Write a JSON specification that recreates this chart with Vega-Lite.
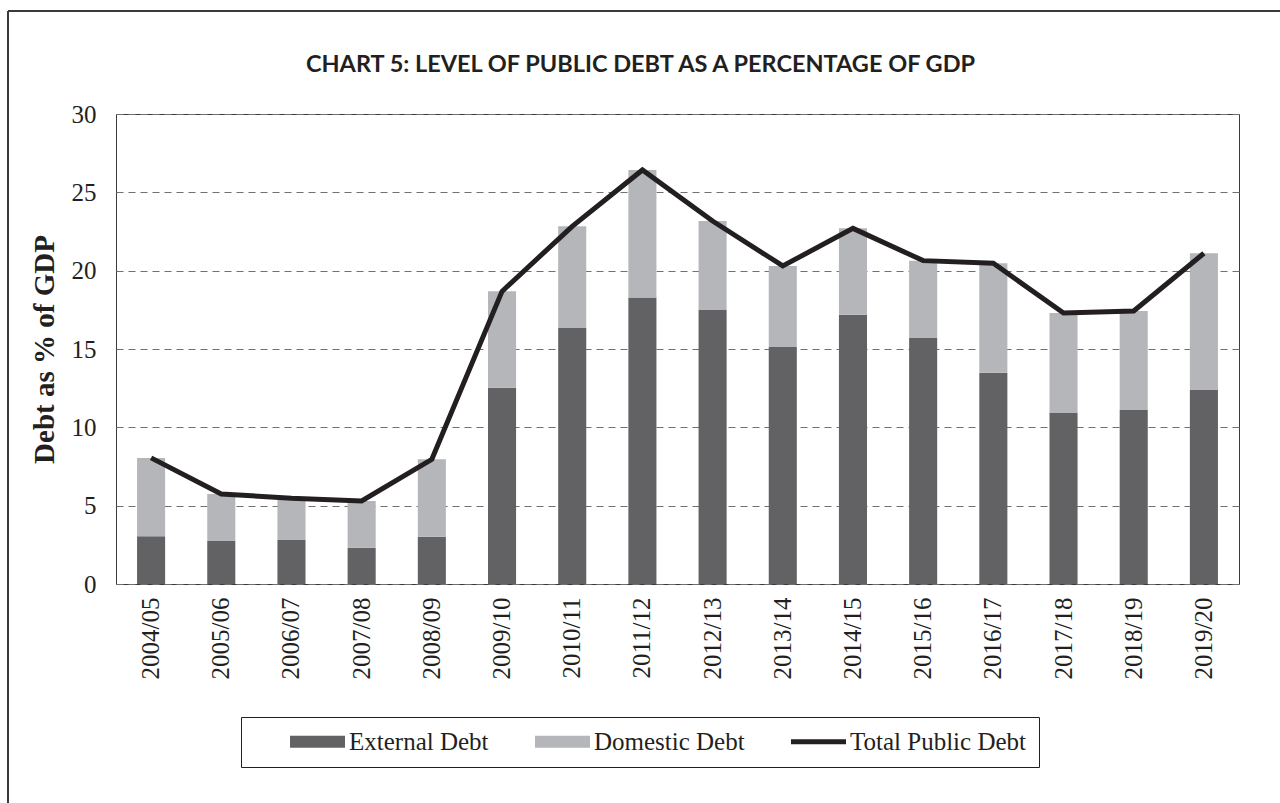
{
  "$schema": "https://vega.github.io/schema/vega-lite/v6.json",
  "width": 1123,
  "height": 470,
  "autosize": {"type": "none"},
  "padding": {"left": 116, "top": 114, "right": 41, "bottom": 219},
  "background": "white",
  "title": {
    "text": "CHART 5: LEVEL OF PUBLIC DEBT AS A PERCENTAGE OF GDP",
    "font": "Lato",
    "fontSize": 23.5,
    "fontWeight": "bold",
    "color": "#231f20",
    "anchor": "middle",
    "baseline": "alphabetic",
    "dx": -37,
    "offset": -85
  },
  "datasets": {
    "parts": [
      {"year": "2004/05", "series": "External Debt", "value": 3.05},
      {"year": "2004/05", "series": "Domestic Debt", "value": 5.00},
      {"year": "2005/06", "series": "External Debt", "value": 2.75},
      {"year": "2005/06", "series": "Domestic Debt", "value": 3.00},
      {"year": "2006/07", "series": "External Debt", "value": 2.81},
      {"year": "2006/07", "series": "Domestic Debt", "value": 2.66},
      {"year": "2007/08", "series": "External Debt", "value": 2.32},
      {"year": "2007/08", "series": "Domestic Debt", "value": 2.98},
      {"year": "2008/09", "series": "External Debt", "value": 3.02},
      {"year": "2008/09", "series": "Domestic Debt", "value": 4.94},
      {"year": "2009/10", "series": "External Debt", "value": 12.53},
      {"year": "2009/10", "series": "Domestic Debt", "value": 6.15},
      {"year": "2010/11", "series": "External Debt", "value": 16.34},
      {"year": "2010/11", "series": "Domestic Debt", "value": 6.49},
      {"year": "2011/12", "series": "External Debt", "value": 18.28},
      {"year": "2011/12", "series": "Domestic Debt", "value": 8.15},
      {"year": "2012/13", "series": "External Debt", "value": 17.49},
      {"year": "2012/13", "series": "Domestic Debt", "value": 5.68},
      {"year": "2013/14", "series": "External Debt", "value": 15.13},
      {"year": "2013/14", "series": "Domestic Debt", "value": 5.17},
      {"year": "2014/15", "series": "External Debt", "value": 17.19},
      {"year": "2014/15", "series": "Domestic Debt", "value": 5.51},
      {"year": "2015/16", "series": "External Debt", "value": 15.70},
      {"year": "2015/16", "series": "Domestic Debt", "value": 4.94},
      {"year": "2016/17", "series": "External Debt", "value": 13.49},
      {"year": "2016/17", "series": "Domestic Debt", "value": 6.98},
      {"year": "2017/18", "series": "External Debt", "value": 10.91},
      {"year": "2017/18", "series": "Domestic Debt", "value": 6.39},
      {"year": "2018/19", "series": "External Debt", "value": 11.11},
      {"year": "2018/19", "series": "Domestic Debt", "value": 6.32},
      {"year": "2019/20", "series": "External Debt", "value": 12.38},
      {"year": "2019/20", "series": "Domestic Debt", "value": 8.73}
    ],
    "totals": [
      {"year": "2004/05", "total": 8.05},
      {"year": "2005/06", "total": 5.75},
      {"year": "2006/07", "total": 5.47},
      {"year": "2007/08", "total": 5.30},
      {"year": "2008/09", "total": 7.96},
      {"year": "2009/10", "total": 18.68},
      {"year": "2010/11", "total": 22.83},
      {"year": "2011/12", "total": 26.43},
      {"year": "2012/13", "total": 23.17},
      {"year": "2013/14", "total": 20.30},
      {"year": "2014/15", "total": 22.70},
      {"year": "2015/16", "total": 20.64},
      {"year": "2016/17", "total": 20.47},
      {"year": "2017/18", "total": 17.30},
      {"year": "2018/19", "total": 17.43},
      {"year": "2019/20", "total": 21.11}
    ]
  },
  "config": {
    "view": {"stroke": "#3c3c3c", "strokeWidth": 1},
    "axisY": {
      "labelFont": "Liberation Serif",
      "labelFontSize": 25,
      "labelColor": "#231f20",
      "labelPadding": 20,
      "grid": true,
      "gridDash": [7, 5],
      "gridColor": "#707070",
      "gridWidth": 1,
      "domain": false,
      "ticks": false,
      "titleFont": "Liberation Serif",
      "titleFontSize": 29,
      "titleFontWeight": "bold",
      "titleColor": "#231f20",
      "titlePadding": 12
    },
    "axisX": {
      "labelFont": "Liberation Serif",
      "labelFontSize": 25,
      "labelColor": "#231f20",
      "labelAngle": -90,
      "labelPadding": 13,
      "domain": false,
      "ticks": false,
      "grid": false
    }
  },
  "layer": [
    {
      "description": "outer frame, left edge",
      "data": {"values": [{}]},
      "mark": {"type": "rule", "stroke": "#3a3a3a", "strokeWidth": 2, "clip": false},
      "encoding": {"x": {"value": -108}, "y": {"value": -103}, "y2": {"value": 700}}
    },
    {
      "description": "outer frame, top edge",
      "data": {"values": [{}]},
      "mark": {"type": "rule", "stroke": "#3a3a3a", "strokeWidth": 2, "clip": false},
      "encoding": {"x": {"value": -108}, "x2": {"value": 1200}, "y": {"value": -103}}
    },
    {
      "data": {"name": "parts"},
      "mark": {"type": "bar"},
      "encoding": {
        "x": {
          "field": "year",
          "type": "nominal",
          "sort": null,
          "scale": {"paddingInner": 0.6, "paddingOuter": 0.3},
          "axis": {"title": null}
        },
        "y": {
          "field": "value",
          "type": "quantitative",
          "stack": "zero",
          "scale": {"domain": [0, 30], "nice": false},
          "axis": {"title": "Debt as % of GDP", "values": [0, 5, 10, 15, 20, 25, 30]}
        },
        "color": {
          "field": "series",
          "type": "nominal",
          "scale": {
            "domain": ["External Debt", "Domestic Debt", "Total Public Debt"],
            "range": ["#626264", "#b5b6b9", "#231f20"]
          },
          "legend": {
            "title": null,
            "orient": "none",
            "legendX": 125,
            "legendY": 603,
            "direction": "horizontal",
            "columns": 3,
            "padding": 12,
            "strokeColor": "#231f20",
            "symbolSize": 3025,
            "symbolOffset": 52,
            "columnPadding": 9,
            "labelOffset": 19,
            "labelFont": "Liberation Serif",
            "labelFontSize": 25,
            "labelColor": "#231f20",
            "labelLimit": 400,
            "encode": {
              "symbols": {
                "update": {
                  "shape": {"signal": "datum.value === 'Total Public Debt' ? 'stroke' : 'M-1,-0.22H1V0.22H-1Z'"},
                  "fill": {"signal": "datum.value === 'Total Public Debt' ? 'transparent' : scale('color', datum.value)"},
                  "stroke": {"signal": "datum.value === 'Total Public Debt' ? '#231f20' : 'transparent'"},
                  "strokeWidth": {"signal": "datum.value === 'Total Public Debt' ? 5 : 0"},
                  "opacity": {"value": 1},
                  "fillOpacity": {"value": 1},
                  "strokeOpacity": {"value": 1}
                }
              }
            }
          }
        },
        "order": {"field": "series", "sort": "descending"}
      }
    },
    {
      "data": {"name": "totals"},
      "mark": {"type": "line", "strokeWidth": 5, "strokeJoin": "miter", "strokeCap": "butt"},
      "encoding": {
        "x": {"field": "year", "type": "nominal", "sort": null},
        "y": {"field": "total", "type": "quantitative", "axis": {"title": "Debt as % of GDP"}},
        "color": {"datum": "Total Public Debt"}
      }
    }
  ]
}
